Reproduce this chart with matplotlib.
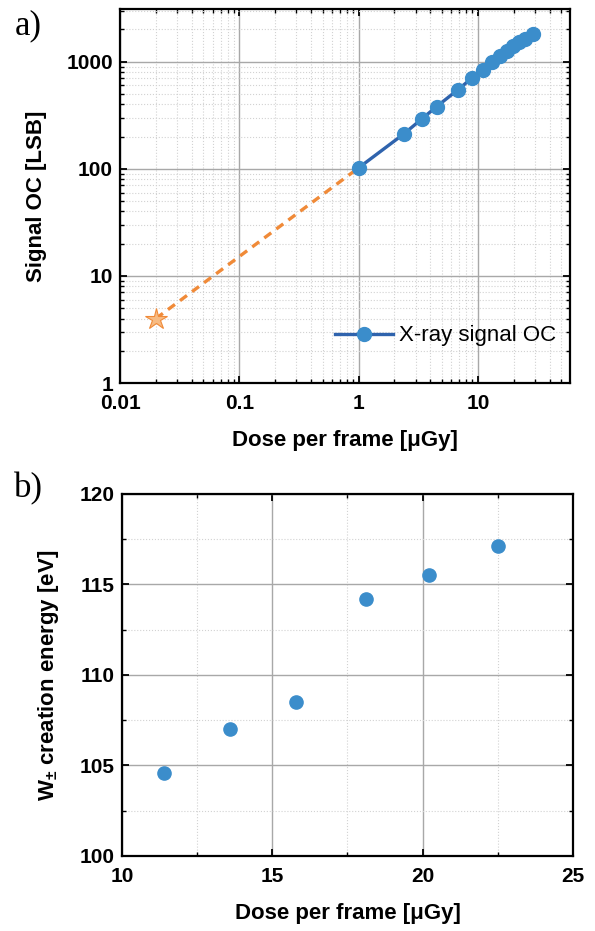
import numpy as np
import matplotlib
matplotlib.use("Agg")
import matplotlib.pyplot as plt
from matplotlib.ticker import LogLocator, NullFormatter, FixedLocator, MultipleLocator

plt.rcParams['font.family'] = ['Liberation Sans', 'DejaVu Sans']
plt.rcParams['mathtext.fontset'] = 'custom'
plt.rcParams['mathtext.rm'] = 'Liberation Sans'
plt.rcParams['mathtext.bf'] = 'Liberation Sans:bold'

# panel a data
dose_a = [1.0, 2.4, 3.4, 4.5, 6.8, 9.0, 11.0, 13.2, 15.4, 17.5, 19.6, 22.0, 24.6, 28.9]
signal_a = [102, 212, 293, 380, 547, 709, 830, 985, 1138, 1248, 1390, 1514, 1640, 1828]
extrap_x = [0.02, 1.0]
extrap_y = [4.0, 102]

# panel b data
dose_b = [11.4, 13.6, 15.8, 18.1, 20.2, 22.5]
w_pair = [104.6, 107.0, 108.5, 114.2, 115.5, 117.1]

blue_line = '#2f63ad'
blue_mk = '#3b8dcb'
orange = '#f08a38'

fig = plt.figure(figsize=(5.95, 9.31), dpi=100)

# ---- a)
ax1 = fig.add_axes([0.2017, 0.5886, 0.756, 0.4017])
ax1.set_xscale('log')
ax1.set_yscale('log')
ax1.plot(extrap_x, extrap_y, '--', color=orange, lw=2.4, dashes=(2.6, 1.9), zorder=2)
ax1.plot(extrap_x[0], extrap_y[0], marker='*', ms=16, mfc='#f7bb83', mec=orange, mew=0.8,
         ls='none', zorder=3)
ax1.plot(dose_a, signal_a, '-', color=blue_line, lw=2.4, marker='o', ms=10,
         mfc=blue_mk, mec=blue_mk, label='X-ray signal OC', zorder=4)
ax1.set_xlim(0.01, 59)
ax1.set_ylim(1, 3100)
ax1.xaxis.set_major_locator(FixedLocator([0.01, 0.1, 1, 10]))
ax1.yaxis.set_major_locator(FixedLocator([1, 10, 100, 1000]))
ax1.set_xticklabels(['0.01', '0.1', '1', '10'])
ax1.set_yticklabels(['1', '10', '100', '1000'])
ax1.xaxis.set_minor_locator(LogLocator(base=10, subs=np.arange(2, 10), numticks=20))
ax1.yaxis.set_minor_locator(LogLocator(base=10, subs=np.arange(2, 10), numticks=20))
ax1.xaxis.set_minor_formatter(NullFormatter())
ax1.yaxis.set_minor_formatter(NullFormatter())
ax1.set_xlabel('Dose per frame [\u03bcGy]', fontsize=16, fontweight='bold', labelpad=12)
ax1.set_ylabel('Signal OC [LSB]', fontsize=16, fontweight='bold', labelpad=14)
ax1.legend(loc='center right', frameon=False, fontsize=16, handlelength=2.6,
           bbox_to_anchor=(1.0, 0.126), handletextpad=0.3, borderaxespad=0.2)
ax1.text(-0.235, 1.0, 'a)', transform=ax1.transAxes, fontsize=25,
         family='Liberation Serif', va='top')

# ---- b)
ax2 = fig.add_axes([0.205, 0.0806, 0.758, 0.3888])
ax2.plot(dose_b, w_pair, 'o', ms=9.5, color=blue_mk, zorder=4)
ax2.set_xlim(10, 25)
ax2.set_ylim(100, 120)
ax2.xaxis.set_major_locator(MultipleLocator(5))
ax2.xaxis.set_minor_locator(MultipleLocator(2.5))
ax2.yaxis.set_major_locator(MultipleLocator(5))
ax2.yaxis.set_minor_locator(MultipleLocator(2.5))
ax2.set_xlabel('Dose per frame [\u03bcGy]', fontsize=16, fontweight='bold', labelpad=12)
ax2.set_ylabel(r'W$_{\mathbf{\pm}}$ creation energy [eV]', fontsize=16,
               fontweight='bold', labelpad=14)
ax2.text(-0.24, 1.06, 'b)', transform=ax2.transAxes, fontsize=25,
         family='Liberation Serif', va='top')

for ax in (ax1, ax2):
    ax.grid(True, which='major', color='#a8a8a8', lw=1.0, ls='-', zorder=0)
    ax.grid(True, which='minor', color='#d2d2d2', lw=0.8, ls=':', zorder=0)
    ax.set_axisbelow(True)
    ax.tick_params(which='both', direction='in', top=True, right=True)
    ax.tick_params(which='major', length=5, width=1.3, labelsize=15, pad=5)
    ax.tick_params(axis='x', which='major', pad=8)
    ax.tick_params(which='minor', length=3, width=1.0)
    for lab in ax.get_xticklabels() + ax.get_yticklabels():
        lab.set_fontweight('bold')
    for sp in ax.spines.values():
        sp.set_linewidth(1.6)

fig.savefig('out.png', dpi=100)
